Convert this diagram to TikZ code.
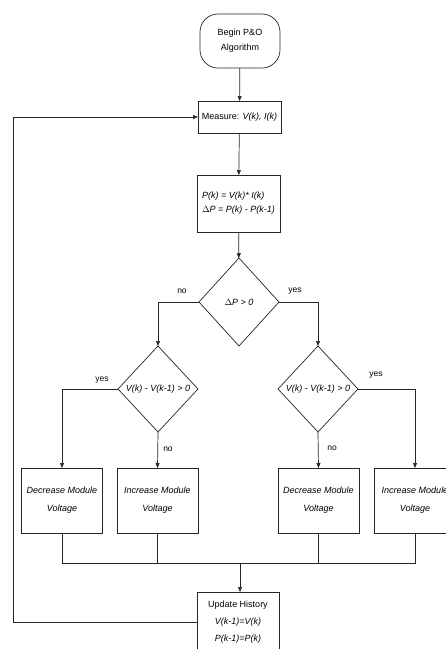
\documentclass[tikz,border=0pt]{standalone}
\usepackage{fontspec}
\setmainfont{Liberation Sans}
\usetikzlibrary{shapes.geometric,arrows.meta}

\begin{document}
\begin{tikzpicture}[x=1pt,y=-1pt,line width=0.7pt,draw=black!85,
  font=\fontsize{9}{15}\selectfont,
  blk/.style n args={2}{draw,rectangle,minimum width=#1pt,minimum height=#2pt,inner sep=1pt,outer sep=0pt,align=center},
  dec/.style={draw,diamond,aspect=1,minimum width=80pt,minimum height=#1pt,inner sep=0pt,outer sep=0pt},
  lbl/.style={font=\fontsize{8.5}{10}\selectfont},
  flow/.style={-{Triangle[length=5pt,width=4pt]}}]
\useasboundingbox (0,0) rectangle (446,649);
\clip (0,0) rectangle (446,649);
% top of the chart
\node[blk={80}{54},rounded corners=18pt] (begin) at (240,41) {Begin P\&O\\Algorithm};
\node[blk={83}{32}] (meas) at (239.5,117) {Measure: \textit{V(k), I(k)}};
\node[blk={83}{57},align=left,font=\itshape\fontsize{9}{14}\selectfont] (pow) at (238.5,203.5) {P(k) = V(k)* I(k)\\$\Delta$P = P(k) - P(k-1)};
\node[dec=88] (dp) at (239,302) {\itshape $\Delta$P > 0};
% second level decisions
\node[dec=86] (dl) at (158,389) {\itshape V(k) - V(k-1) > 0};
\node[dec=86] (dr) at (318,389) {\itshape V(k) - V(k-1) > 0};
% actions
\foreach \n/\x/\t in {b1/62/Decrease,b2/157.5/Increase,b3/318.5/Decrease,b4/415/Increase} {
   \node[blk={81}{65},font=\itshape\fontsize{9}{18}\selectfont] (\n) at (\x,500.5) {\t{} Module\\Voltage};
}
\node[blk={82}{60},font=\fontsize{9}{17}\selectfont] (upd) at (238,622) {Update History\\\textit{V(k-1)=V(k)}\\\textit{P(k-1)=P(k)}};
\coordinate (bus) at (240,563);
\coordinate (lp) at (13,117);
% connectors
\draw[flow] (begin) -- (meas);
\draw[flow] (meas) -- (pow);
\draw[flow] (pow) -- (dp);
\draw[flow] (dp.west) -| (dl.north);
\draw[flow] (dp.east) -| (dr.north);
\draw[flow] (dl.west) -| (b1.north);
\draw[flow] (dl.south) -- (b2.north);
\draw[flow] (dr.south) -- (b3.north);
\draw[flow] (dr.east) -| (b4.north);
\draw (b1.south) |- (b4.south |- bus) -- (b4.south);
\foreach \n in {b2,b3} {
   \draw (\n.south) -- (\n.south |- bus);
}
\draw[flow] (bus) -- (bus |- upd.north);
\draw[flow] (upd.west) -| (lp) -- (meas.west);
% branch labels
\node[lbl] (n0) at (182,291) {no};
\node[lbl] (y0) at (295,291) {yes};
\node[lbl] (y1) at (102,380) {yes};
\node[lbl] (n1) at (168,449) {no};
\node[lbl] (n2) at (332,448) {no};
\node[lbl] (y2) at (376,375) {yes};
\end{tikzpicture}
\end{document}
